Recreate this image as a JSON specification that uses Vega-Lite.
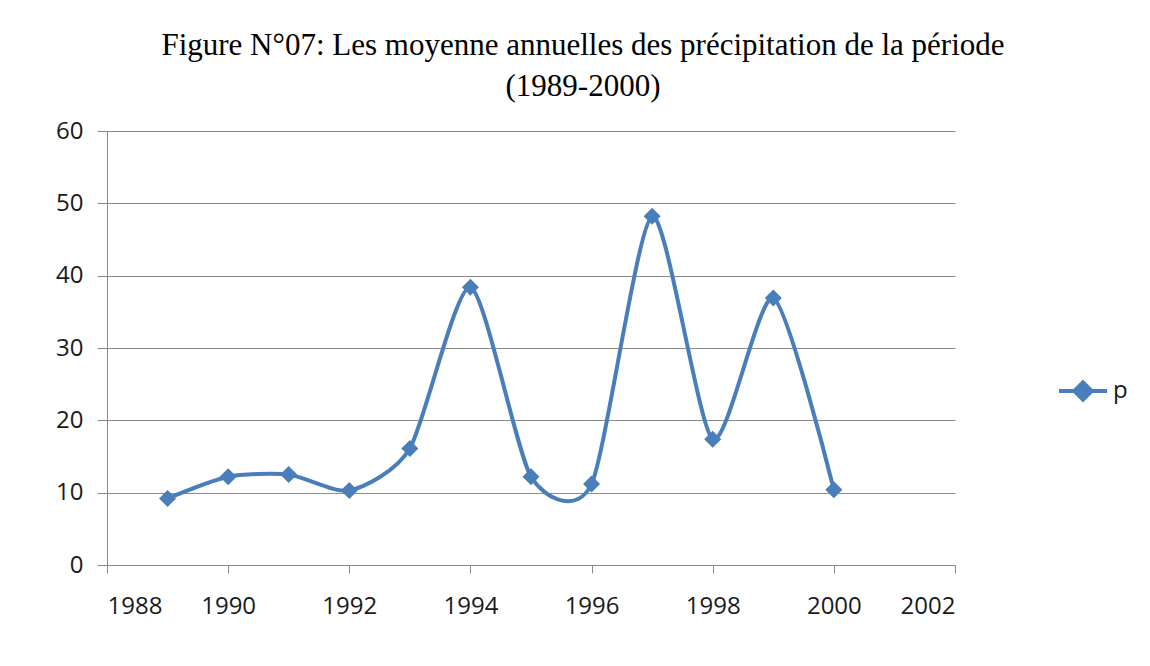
{
  "$schema": "https://vega.github.io/schema/vega-lite/v6.json",
  "width": 848,
  "height": 434,
  "autosize": "none",
  "padding": {"left": 107, "top": 131, "right": 195, "bottom": 101},
  "background": "white",
  "title": {
    "text": ["Figure N°07: Les moyenne annuelles des précipitation de la période", "(1989-2000)"],
    "font": "Liberation Serif",
    "fontSize": 31,
    "fontWeight": "normal",
    "color": "#000000",
    "anchor": "middle",
    "dx": 52,
    "offset": 16,
    "lineHeight": 41
  },
  "data": {
    "values": [
      {"annee": 1989, "p": 9.2},
      {"annee": 1990, "p": 12.2},
      {"annee": 1991, "p": 12.5},
      {"annee": 1992, "p": 10.3},
      {"annee": 1993, "p": 16.1},
      {"annee": 1994, "p": 38.4},
      {"annee": 1995, "p": 12.2},
      {"annee": 1996, "p": 11.2},
      {"annee": 1997, "p": 48.2},
      {"annee": 1998, "p": 17.4},
      {"annee": 1999, "p": 36.9},
      {"annee": 2000, "p": 10.4}
    ]
  },
  "transform": [{"fold": ["p"], "as": ["serie", "valeur"]}],
  "encoding": {
    "x": {
      "field": "annee",
      "type": "quantitative",
      "scale": {"domain": [1988, 2002], "nice": false, "zero": false},
      "axis": {
        "title": null,
        "values": [1988, 1990, 1992, 1994, 1996, 1998, 2000, 2002],
        "format": "d",
        "grid": false,
        "domainColor": "#888888",
        "tickColor": "#888888",
        "tickSize": 8,
        "labelPadding": 21,
        "labelFont": "Open Sans",
        "labelFontSize": 24,
        "labelColor": "#1a1a1a"
      }
    },
    "y": {
      "field": "valeur",
      "type": "quantitative",
      "scale": {"domain": [0, 60], "nice": false},
      "axis": {
        "title": null,
        "values": [0, 10, 20, 30, 40, 50, 60],
        "grid": true,
        "gridColor": "#8c8c8c",
        "gridWidth": 1,
        "domainColor": "#888888",
        "tickColor": "#888888",
        "tickSize": 10,
        "labelPadding": 14,
        "labelFont": "Open Sans",
        "labelFontSize": 24,
        "labelColor": "#1a1a1a"
      }
    },
    "color": {
      "field": "serie",
      "type": "nominal",
      "scale": {"range": ["#4a7ebb"]},
      "legend": {
        "title": null,
        "orient": "none",
        "legendX": 950,
        "legendY": 234,
        "symbolType": "M-1,0L1,0M0,-0.36L0.36,0L0,0.36L-0.36,0Z",
        "symbolSize": 2304,
        "symbolStrokeWidth": 4,
        "symbolFillColor": "#4a7ebb",
        "symbolStrokeColor": "#4a7ebb",
        "labelFont": "Open Sans",
        "labelFontSize": 24,
        "labelColor": "#1a1a1a",
        "labelOffset": 4,
        "padding": 0
      }
    }
  },
  "layer": [
    {"mark": {"type": "line", "interpolate": "cardinal", "tension": 0.3, "strokeWidth": 4}},
    {"mark": {"type": "point", "shape": "diamond", "filled": true, "size": 290, "opacity": 1}}
  ],
  "config": {"view": {"stroke": null}}
}
